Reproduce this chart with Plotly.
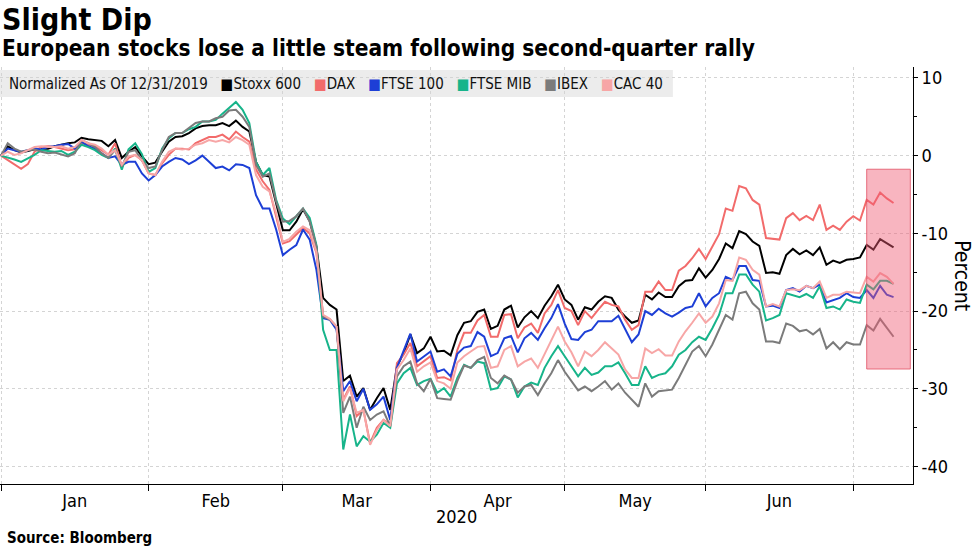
import plotly.graph_objects as go
import pandas as pd

# ---- data -------------------------------------------------------------
holidays = ["2020-04-10", "2020-04-13"]
dates = [pd.Timestamp("2019-12-31")] + [
    d for d in pd.bdate_range("2020-01-02", "2020-07-08")
    if d.strftime("%Y-%m-%d") not in holidays
]

series_names = ["Stoxx 600", "DAX", "FTSE 100", "FTSE MIB", "IBEX", "CAC 40"]
series_colors = ["#000000", "#f26b6b", "#1d3fd6", "#17b48a", "#7b7b7b", "#f7a6a6"]

stoxx600 = [0,
    1.2, 0.7, 0.4, 0.6, 0.8, 0.9, 0.9, 1.2, 1.4, 1.6, 1.7, 2.3, 2.1, 2.0, 1.9, 1.2, 2.0, -0.3, 0.5, 1.1, -0.1, -1.1,
    -0.9, 0.5, 1.8, 2.4, 2.5, 2.9, 3.5, 3.8, 3.9, 3.9, 4.2, 3.8, 4.5, 3.7, 3.1, -0.8, -2.5, -2.7, -6.1, -9.6,
    -9.6, -8.5, -6.9, -8.4, -11.7, -18.3, -19.2, -19.8, -29.0, -28.3, -31.0, -29.9, -32.7, -31.2, -29.9, -32.7, -27.1, -25.4, -23.0, -25.4, -24.8, -23.3,
    -25.2, -25.1, -25.7, -23.1, -21.5, -21.3, -20.1, -19.8, -22.3, -21.9, -19.8, -19.3, -22.1, -20.8, -20.0, -20.9, -19.3, -18.1, -16.6, -18.5,
    -19.2, -21.1, -19.5, -19.8, -18.8, -18.1, -18.3, -19.8, -20.7, -21.5, -21.2, -17.9, -18.5, -17.6, -18.2, -18.2, -16.8, -16.1, -16.0, -14.5, -15.7,
    -14.7, -13.3, -11.3, -11.9, -9.7, -10.1, -11.05, -11.6, -15.1, -15.0, -15.2, -12.8, -12.0, -12.7, -12.2, -12.8, -11.8, -14.05, -13.5, -13.8, -13.4, -13.3,
    -13.1, -11.5, -12.1, -10.75, -11.3, -11.8]

dax = [0,
    -0.6, -1.1, -1.7, -1.1, 0.5, 1.1, 1.2, 1.1, 0.9, 0.7, 0.8, 1.6, 1.4, 1.2, 0.7, 0.1, 1.6, -1.4, -0.3, 0.1, -0.6, -2.3,
    -2.5, -1.0, 0.1, 0.9, 0.9, 0.8, 1.6, 2.0, 2.4, 2.4, 2.7, 2.1, 3.1, 2.4, 1.8, -1.8, -3.3, -4.4, -7.8, -11.3,
    -11.0, -10.2, -9.3, -10.0, -12.5, -20.7, -21.1, -22.0, -31.4, -29.7, -33.5, -32.7, -37.0, -35.0, -34.0, -34.6, -26.7, -25.6, -24.1, -27.1, -26.5, -25.8,
    -28.6, -28.5, -28.9, -25.0, -22.8, -22.8, -21.2, -20.5, -23.3, -23.3, -20.5, -20.4, -23.5, -22.1, -21.6, -22.8, -20.3, -19.2, -17.3, -19.6,
    -20.0, -21.8, -20.0, -20.9, -19.8, -18.8, -19.2, -19.4, -21.1, -22.4, -21.8, -17.5, -17.5, -16.2, -17.3, -17.3, -14.8, -14.2, -13.2, -12.0, -13.3,
    -11.7, -10.1, -6.8, -7.1, -3.9, -4.2, -5.7, -6.3, -10.6, -10.7, -10.8, -8.05, -7.4, -8.3, -7.75, -8.3, -6.3, -9.55, -9.0, -9.55, -8.5, -7.8,
    -8.35, -5.7, -6.3, -4.75, -5.5, -6.1]

ftse100 = [0,
    0.9, 0.7, 0.5, 0.7, 0.9, 0.8, 1.1, 1.2, 1.4, 1.5, 0.9, 1.8, 1.2, 0.9, 0.3, -0.3, -0.1, -1.2, -0.8, -0.8, -2.3, -3.2,
    -2.5, -1.4, -0.8, -0.3, -0.5, -1.1, -0.6, 0.0, -0.8, -1.6, -1.4, -1.9, -1.1, -1.2, -1.6, -5.1, -6.8, -6.8, -9.5, -12.8,
    -12.1, -11.5, -9.5, -10.8, -14.7, -20.9, -21.1, -22.4, -30.3, -29.0, -31.6, -30.0, -32.7, -32.0, -31.0, -34.0, -27.3, -25.0, -22.9, -26.5, -25.8, -25.2,
    -27.8, -27.5, -28.4, -25.5, -24.7, -24.5, -22.7, -23.3, -25.8, -25.4, -23.5, -23.2, -25.3, -23.5, -22.8, -23.7, -22.2, -20.9, -19.1, -21.6,
    -23.6, -23.7, -22.7, -22.4, -21.3, -21.3, -21.3, -20.6, -22.2, -24.0, -23.0, -20.0, -20.5, -19.7, -20.3, -20.7, -20.2, -19.6, -19.4, -17.7, -19.4,
    -18.3, -17.7, -15.6, -16.0, -14.2, -14.2, -16.0, -16.1, -19.4, -19.3, -19.6, -17.3, -17.05, -17.5, -16.75, -17.05, -16.6, -18.9, -18.55, -18.3, -17.7, -18.2,
    -18.3, -17.3, -18.3, -16.75, -17.9, -18.2]

ftse_mib = [0,
    -0.2, -0.5, -0.8, -0.4, 0.1, 0.7, 0.6, 0.5, 0.6, 0.1, 0.5, 1.4, 1.1, 0.7, 0.1, -0.3, 0.9, -1.8, 0.8, 1.6, 0.2, -2.1,
    -1.6, 0.9, 2.2, 2.9, 2.9, 3.4, 3.7, 4.4, 4.4, 4.6, 5.4, 6.1, 6.9, 5.9, 4.2, -0.8, -2.5, -1.6, -5.7, -8.1,
    -8.8, -7.8, -6.8, -8.0, -11.5, -22.4, -25.0, -25.0, -37.8, -33.3, -37.4, -36.1, -36.8, -35.9, -34.4, -35.0, -29.3, -28.0, -27.3, -29.5, -29.0, -28.7,
    -30.5, -29.9, -31.0, -28.6, -26.9, -27.3, -26.5, -26.7, -30.1, -29.9, -28.4, -28.8, -31.1, -29.7, -29.2, -29.5, -27.3, -25.8, -24.5, -25.8,
    -27.1, -28.4, -27.3, -28.2, -27.9, -27.1, -27.1, -26.6, -28.0, -29.5, -29.5, -27.1, -28.6, -28.2, -28.0, -27.1, -25.6, -25.0, -24.0, -23.3, -23.7,
    -22.2, -20.5, -17.7, -17.7, -15.3, -15.3, -16.6, -17.5, -21.2, -20.9, -20.5, -17.7, -17.9, -18.2, -17.8, -18.3, -16.8, -19.6, -19.4, -19.8, -18.5, -18.8,
    -18.95, -16.6, -17.2, -16.1, -16.1, -16.5]

ibex = [0,
    1.6, 0.9, 0.5, 0.7, 0.8, 0.5, 0.3, 0.4, 0.1, -0.1, 0.3, 2.0, 1.6, 1.1, 0.3, -0.3, 0.7, -1.4, 0.5, 0.7, -0.6, -1.6,
    -1.4, 0.7, 2.4, 2.9, 2.9, 3.5, 4.2, 4.4, 4.4, 4.8, 5.0, 5.8, 5.9, 5.0, 3.7, -1.2, -2.7, -2.3, -5.9, -8.5,
    -8.4, -7.8, -6.8, -8.5, -11.7, -20.7, -21.1, -22.0, -33.1, -31.0, -35.0, -32.3, -34.0, -33.3, -32.9, -34.8, -28.4, -27.1, -26.5, -29.3, -30.3, -28.7,
    -31.2, -31.3, -31.4, -29.0, -27.0, -27.3, -26.3, -25.9, -28.6, -29.3, -28.3, -28.8, -30.5, -29.7, -29.5, -30.8, -29.3, -28.0, -26.3, -27.8,
    -29.0, -30.2, -29.7, -30.3, -29.7, -29.0, -30.1, -29.3, -30.5, -31.4, -32.3, -29.3, -31.0, -30.3, -30.2, -30.1, -28.6, -26.8, -25.2, -24.5, -25.8,
    -24.3, -22.4, -20.5, -21.1, -17.7, -17.5, -19.0, -19.8, -23.9, -23.9, -24.1, -21.6, -21.9, -22.6, -22.4, -23.0, -22.3, -24.8, -24.0, -24.9, -24.0, -24.3,
    -24.3, -21.8, -22.5, -21.0, -22.2, -23.3]

cac40 = [0,
    0.5, 0.1, 0.3, 0.7, 1.1, 1.2, 1.1, 1.1, 1.2, 0.9, 1.1, 2.0, 1.6, 1.4, 0.9, 0.1, 0.7, -1.2, -0.1, 0.1, -0.6, -2.3,
    -2.5, -0.8, 0.5, 0.9, 0.8, 0.9, 1.4, 1.6, 2.0, 1.8, 2.0, 1.7, 2.4, 2.0, 1.4, -2.5, -4.0, -4.6, -7.4, -11.1,
    -10.7, -9.8, -9.1, -9.6, -12.4, -20.5, -21.0, -22.0, -31.6, -29.9, -33.1, -32.7, -37.2, -35.3, -34.0, -34.8, -27.5, -26.3, -24.8, -27.8, -27.1, -26.6,
    -29.0, -29.3, -30.0, -26.6, -25.8, -25.2, -24.6, -24.5, -27.3, -27.1, -25.0, -24.5, -27.1, -26.5, -26.1, -27.3, -25.6, -23.7, -22.0, -23.9,
    -25.3, -27.1, -25.2, -25.8, -25.0, -24.0, -24.8, -25.6, -27.5, -28.6, -28.6, -24.8, -25.4, -24.9, -25.7, -25.7, -23.9, -22.6, -21.5, -20.3, -21.5,
    -20.7, -19.0, -16.0, -16.1, -13.1, -13.4, -14.7, -15.3, -19.4, -19.1, -19.4, -17.3, -17.2, -17.3, -16.75, -17.05, -16.2, -18.3, -17.9, -17.9, -17.5, -17.6,
    -17.7, -15.6, -16.2, -15.1, -15.6, -16.5]

series_values = [stoxx600, dax, ftse100, ftse_mib, ibex, cac40]

y_tickvals = [-40, -30, -20, -10, 0, 10]
y_ticktext = [str(v) for v in y_tickvals]
month_labels = ["Jan", "Feb", "Mar", "Apr", "May", "Jun"]

# highlighted window (last few sessions)
box_start, box_end = "2020-07-02", "2020-07-13"
box_low, box_high = -27.45, -1.75

# ---- positions on a trading-day axis -----------------------------------
x = list(range(len(dates)))
month_ends = [0]
for m in range(1, 7):
    month_ends.append(max(i for i, d in enumerate(dates) if d.year == 2020 and d.month == m))
label_pos = [(month_ends[k] + month_ends[k + 1]) / 2 for k in range(6)]

def date_to_x(s):
    ts = pd.Timestamp(s)
    before = [i for i, d in enumerate(dates) if d <= ts]
    base = before[-1]
    extra = len(pd.bdate_range(dates[base], ts)) - 1
    return base + extra

FONT = "DejaVu Sans Condensed, DejaVu Sans, sans-serif"
GRID = "#d4d4d4"

fig = go.Figure()
for name, vals, col in zip(series_names, series_values, series_colors):
    fig.add_trace(go.Scatter(
        x=x, y=vals, mode="lines", name=name,
        line=dict(color=col, width=2),
        customdata=[d.strftime("%Y-%m-%d") for d in dates],
        hovertemplate="%{customdata}: %{y:.1f}%<extra>" + name + "</extra>",
        showlegend=False,
    ))

# highlight box (drawn over the lines, semi-transparent)
fig.add_shape(type="rect", xref="x", yref="y",
              x0=date_to_x(box_start), x1=date_to_x(box_end) - 0.5,
              y0=box_low, y1=box_high,
              fillcolor="rgba(240,90,115,0.45)",
              line=dict(color="rgba(225,80,100,0.8)", width=1),
              layer="above")

# legend band
fig.add_shape(type="rect", xref="paper", yref="paper",
              x0=0, x1=0.737, y0=0.928, y1=0.993,
              fillcolor="#ececec", line=dict(width=0), layer="between")

legend_text = "Normalized As Of 12/31/2019" + "".join(
    f"&nbsp;&nbsp;&nbsp;<span style='color:{c}'>■</span>{n}"
    for n, c in zip(series_names, series_colors))
fig.add_annotation(xref="paper", yref="paper", x=0.008, y=0.960,
                   xanchor="left", yanchor="middle", showarrow=False,
                   text=legend_text, font=dict(family=FONT, size=15, color="#111"))

fig.add_annotation(xref="paper", yref="paper", x=0.0, y=1.113,
                   xanchor="left", yanchor="middle", showarrow=False,
                   text="<b>Slight Dip</b>", font=dict(family=FONT, size=30, color="#000"))
fig.add_annotation(xref="paper", yref="paper", x=0.0, y=1.046,
                   xanchor="left", yanchor="middle", showarrow=False,
                   text="<b>European stocks lose a little steam following second-quarter rally</b>",
                   font=dict(family=FONT, size=22.5, color="#000"))
fig.add_annotation(xref="paper", yref="paper", x=1.054, y=0.50,
                   xanchor="center", yanchor="middle", showarrow=False, textangle=90,
                   text="Percent", font=dict(family=FONT, size=21, color="#000"))
fig.add_annotation(xref="paper", yref="paper", x=0.4995, y=-0.079,
                   xanchor="center", yanchor="middle", showarrow=False,
                   text="2020", font=dict(family=FONT, size=18, color="#000"))
fig.add_annotation(xref="paper", yref="paper", x=0.006, y=-0.129,
                   xanchor="left", yanchor="middle", showarrow=False,
                   text="<b>Source: Bloomberg</b>", font=dict(family=FONT, size=15, color="#000"))

fig.update_layout(
    width=977, height=549,
    margin=dict(l=0, r=64, t=67, b=65, autoexpand=False),
    paper_bgcolor="white", plot_bgcolor="white",
    font=dict(family=FONT, size=17, color="#000"),
    hovermode="closest",
    xaxis=dict(
        automargin=False,
        range=[-0.15, 135.9], showgrid=False, zeroline=False,
        showline=True, linecolor="#000", linewidth=1,
        tickmode="array", tickvals=label_pos, ticktext=month_labels, ticks="",
        tickfont=dict(size=18),
        minor=dict(tickmode="array", tickvals=month_ends, ticks="outside",
                   ticklen=6, tickcolor="#000", tickwidth=1,
                   showgrid=True, gridcolor=GRID, griddash="dot", gridwidth=1),
    ),
    yaxis=dict(
        automargin=False,
        side="right", range=[-42.24, 11.40], zeroline=False,
        showline=True, linecolor="#000", linewidth=1,
        tickmode="array", tickvals=y_tickvals, ticktext=y_ticktext,
        ticks="outside", ticklen=4, tickcolor="#000",
        showgrid=True, gridcolor=GRID, griddash="dot", gridwidth=1,
        tickfont=dict(size=18),
        minor=dict(dtick=5, ticks="outside", ticklen=3, tickcolor="#000", showgrid=False),
    ),
)

fig.write_html("out.html", config={"displayModeBar": False},
               post_script="document.body.style.margin='0px';")
